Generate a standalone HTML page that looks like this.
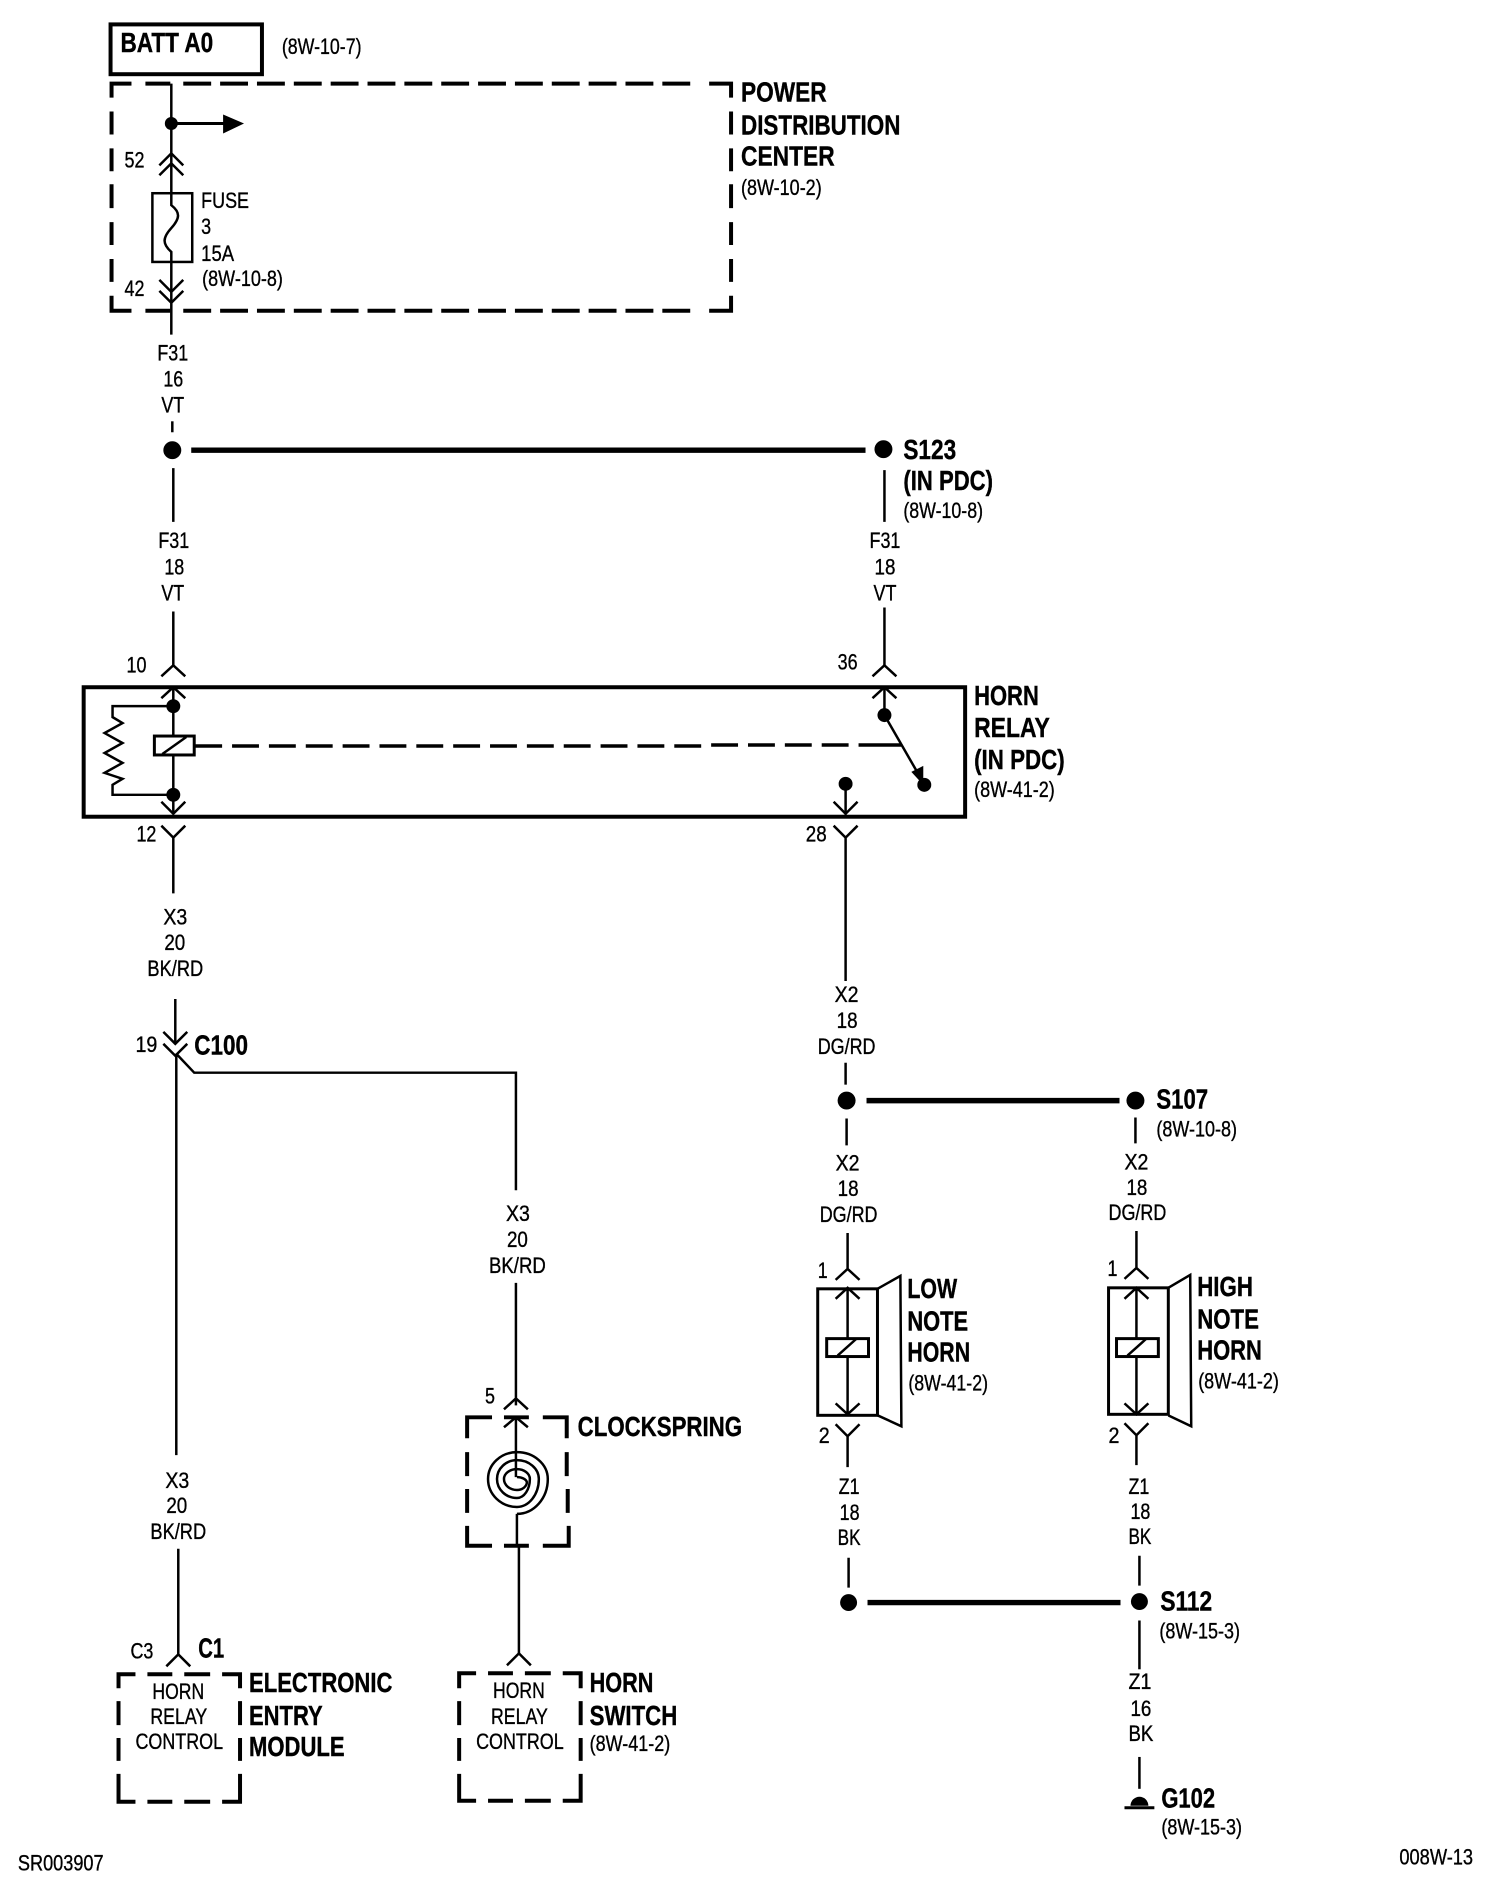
<!DOCTYPE html>
<html><head><meta charset="utf-8"><style>
html,body{margin:0;padding:0;background:#fff}
svg{display:block}
text{fill:#000;font-family:"Liberation Sans",sans-serif}
.b{font-weight:bold;font-size:28px;stroke:#000;stroke-width:.4}
.n{font-size:22px;stroke:#000;stroke-width:.35}
.w{fill:none;stroke:#000;stroke-width:2.5}
.t{fill:none;stroke:#000;stroke-width:4}
.h{fill:none;stroke:#000;stroke-width:5.5}
</style></head><body>
<svg width="1504" height="1894" viewBox="0 0 1504 1894" xmlns="http://www.w3.org/2000/svg">
<rect width="1504" height="1894" fill="#fff"/>
<g transform="scale(.996)">

<!-- BATT -->
<rect class="t" x="111" y="24.5" width="152" height="50"/>
<text class="b" x="121" y="52" textLength="93" lengthAdjust="spacingAndGlyphs">BATT A0</text>
<text class="n" x="283" y="54" textLength="80" lengthAdjust="spacingAndGlyphs">(8W-10-7)</text>

<!-- PDC dashed -->
<path class="t" d="M112 98V84H132M146 84H171M184 84H212M221 84H249M258 84H286M295 84H323M332 84H360M369 84H397M406 84H434M443 84H471M480 84H508M517 84H545M554 84H582M591 84H619M628 84H656M665 84H693M712 84H734V98
M112 112V135M112 149V172M112 185V209M112 223V246M112 260V283M112 297V312H132M146 312H171M184 312H212M221 312H249M258 312H286M295 312H323M332 312H360M369 312H397M406 312H434M443 312H471M480 312H508M517 312H545M554 312H582M591 312H619M628 312H656M665 312H693M712 312H734V297
M734 112V135M734 149V172M734 185V209M734 223V246M734 260V283"/>
<text class="b" x="744" y="102" textLength="86" lengthAdjust="spacingAndGlyphs">POWER</text>
<text class="b" x="744" y="135" textLength="160" lengthAdjust="spacingAndGlyphs">DISTRIBUTION</text>
<text class="b" x="744" y="166" textLength="94" lengthAdjust="spacingAndGlyphs">CENTER</text>
<text class="n" x="744" y="196" textLength="81" lengthAdjust="spacingAndGlyphs">(8W-10-2)</text>

<!-- PDC internals -->
<g transform="translate(1,1)">
<path class="w" d="M171 83V192M171 261V335"/>
<circle cx="171" cy="123" r="6.5"/>
<path class="t" d="M171 123H224" style="stroke-width:3"/>
<path d="M223 114L244 123L223 133Z"/>
<path class="w" d="M159 165L171 153L183 165M159 175L171 163L183 175"/>
<rect class="w" x="152" y="193" width="40" height="69"/>
<path class="w" d="M171 193V205C180 212 180 218 171 228C162 238 162 244 171 252V262"/>
<path class="w" d="M159 280L171 292L183 280M159 291L171 303L183 291"/>
<text class="n" x="124" y="167" textLength="20" lengthAdjust="spacingAndGlyphs">52</text>
<text class="n" x="124" y="296" textLength="20" lengthAdjust="spacingAndGlyphs">42</text>
<text class="n" x="201" y="208" textLength="48" lengthAdjust="spacingAndGlyphs">FUSE</text>
<text class="n" x="201" y="234" textLength="10" lengthAdjust="spacingAndGlyphs">3</text>
<text class="n" x="201" y="261" textLength="33" lengthAdjust="spacingAndGlyphs">15A</text>
<text class="n" x="202" y="286" textLength="81" lengthAdjust="spacingAndGlyphs">(8W-10-8)</text>

<!-- F31 16 -->
<text class="n" x="157" y="361" textLength="31" lengthAdjust="spacingAndGlyphs">F31</text>
<text class="n" x="163" y="387" textLength="20" lengthAdjust="spacingAndGlyphs">16</text>
<text class="n" x="161" y="413" textLength="23" lengthAdjust="spacingAndGlyphs">VT</text>
<path class="w" d="M172 422V433"/>
<circle cx="172" cy="451" r="9"/>
<path class="h" d="M191 451H868"/>
<circle cx="886" cy="450" r="9"/>
</g>

<!-- S123 -->
<text class="b" x="907" y="461" textLength="53" lengthAdjust="spacingAndGlyphs">S123</text>
<text class="b" x="907" y="492" textLength="90" lengthAdjust="spacingAndGlyphs">(IN PDC)</text>
<text class="n" x="907" y="520" textLength="80" lengthAdjust="spacingAndGlyphs">(8W-10-8)</text>
<path class="w" d="M174 470V524M174 614V668M888 472V524M888 610V668"/>
<text class="n" x="159" y="550" textLength="31" lengthAdjust="spacingAndGlyphs">F31</text>
<text class="n" x="165" y="577" textLength="20" lengthAdjust="spacingAndGlyphs">18</text>
<text class="n" x="162" y="603" textLength="23" lengthAdjust="spacingAndGlyphs">VT</text>
<text class="n" x="873" y="550" textLength="31" lengthAdjust="spacingAndGlyphs">F31</text>
<text class="n" x="878" y="577" textLength="21" lengthAdjust="spacingAndGlyphs">18</text>
<text class="n" x="877" y="603" textLength="23" lengthAdjust="spacingAndGlyphs">VT</text>

<!-- Relay -->
<rect class="t" x="84" y="690" width="885" height="130"/>
<path class="w" d="M162 679L174 668L186 679M876 679L888 668L900 679"/>
<path class="w" d="M162 701L174 690L186 701M876 701L888 690L900 701"/>
<path class="w" d="M174 690V817M888 690V716"/>
<circle cx="174" cy="709" r="7"/>
<circle cx="174" cy="798" r="7"/>
<path class="w" d="M162 805L174 817L186 805"/>
<path class="w" d="M174 709H113V720L123 726L105 736L123 746L105 756L123 766L105 776L123 782L113 788V798H174"/>
<rect x="155" y="739" width="40" height="19" fill="#fff" stroke="#000" stroke-width="3"/>
<path class="w" d="M163 757L187 740"/>
<path class="t" d="M195 749H223M233 749H260M270 749H297M307 749H334M344 749H371M381 749H408M418 749H445M455 749H482M492 749H519M529 749H556M566 749H593M603 749H630M640 749H667M677 749H704M714 748H741M751 748H778M788 748H815M825 748H852M862 748H905" style="stroke-width:3.5"/>
<circle cx="888" cy="718" r="7"/>
<path class="w" d="M888 718L926 784"/>
<path d="M915 775L927 769L927 788Z"/>
<circle cx="928" cy="788" r="7"/>
<circle cx="849" cy="787" r="7"/>
<path class="w" d="M849 787V818M837 805L849 817L861 805"/>
<path class="w" d="M162 829L174 841L186 829M174 841V897M837 829L849 841L861 829M849 841V985"/>
<text class="n" x="127" y="675" textLength="20" lengthAdjust="spacingAndGlyphs">10</text>
<text class="n" x="841" y="672" textLength="20" lengthAdjust="spacingAndGlyphs">36</text>
<text class="n" x="137" y="845" textLength="20" lengthAdjust="spacingAndGlyphs">12</text>
<text class="n" x="809" y="845" textLength="21" lengthAdjust="spacingAndGlyphs">28</text>
<text class="b" x="978" y="708" textLength="65" lengthAdjust="spacingAndGlyphs">HORN</text>
<text class="b" x="978" y="740" textLength="76" lengthAdjust="spacingAndGlyphs">RELAY</text>
<text class="b" x="978" y="772" textLength="91" lengthAdjust="spacingAndGlyphs">(IN PDC)</text>
<text class="n" x="978" y="800" textLength="81" lengthAdjust="spacingAndGlyphs">(8W-41-2)</text>

<!-- X3 left upper -->
<text class="n" x="164" y="928" textLength="24" lengthAdjust="spacingAndGlyphs">X3</text>
<text class="n" x="165" y="954" textLength="21" lengthAdjust="spacingAndGlyphs">20</text>
<text class="n" x="148" y="980" textLength="56" lengthAdjust="spacingAndGlyphs">BK/RD</text>

<!-- C100 -->
<path class="w" d="M176 1003V1046M164 1036L176 1048L188 1036M164 1048L176 1060L188 1048"/>
<path class="w" d="M177 1058V1461M177 1058L195 1077H518V1195"/>
<text class="n" x="136" y="1056" textLength="22" lengthAdjust="spacingAndGlyphs">19</text>
<text class="b" x="195" y="1059" textLength="54" lengthAdjust="spacingAndGlyphs">C100</text>

<!-- Clockspring branch -->
<text class="n" x="508" y="1226" textLength="24" lengthAdjust="spacingAndGlyphs">X3</text>
<text class="n" x="509" y="1252" textLength="21" lengthAdjust="spacingAndGlyphs">20</text>
<text class="n" x="491" y="1278" textLength="57" lengthAdjust="spacingAndGlyphs">BK/RD</text>
<path class="w" d="M518 1288V1411M506 1415L518 1404L530 1415"/>
<text class="n" x="487" y="1409" textLength="10" lengthAdjust="spacingAndGlyphs">5</text>
<path class="t" d="M469 1444V1423H494M506 1423H531M545 1423H569V1444M469 1458V1482M469 1495V1519M469 1532V1552H494M506 1552H531M545 1552H571V1532M569 1458V1482M570 1495V1519"/>
<path class="w" d="M506 1433L518 1423L530 1433M518 1423V1483"/>
<g transform="translate(2,5)">
<path class="w" d="M517 1478A10 6 0 0 1 527 1483A10 8 0 0 1 517 1491A13 11 0 0 1 504 1480A13 10 0 0 1 517 1470A13 10 0 0 1 530 1480A13 19 0 0 1 517 1499A20 19 0 0 1 497 1480A20 19 0 0 1 517 1461A22 19 0 0 1 539 1480A22 28 0 0 1 517 1508A29 28 0 0 1 488 1480A29 27 0 0 1 517 1453A31 27 0 0 1 548 1480A31 35 0 0 1 517 1515"/>
</g>
<path class="w" d="M519 1520V1552M521 1552V1660"/>
<text class="b" x="580" y="1442" textLength="165" lengthAdjust="spacingAndGlyphs">CLOCKSPRING</text>

<!-- X3 lower left -->
<text class="n" x="166" y="1494" textLength="24" lengthAdjust="spacingAndGlyphs">X3</text>
<text class="n" x="167" y="1519" textLength="21" lengthAdjust="spacingAndGlyphs">20</text>
<text class="n" x="151" y="1545" textLength="56" lengthAdjust="spacingAndGlyphs">BK/RD</text>
<path class="w" d="M179 1555V1661M167 1673L179 1661L191 1673"/>
<text class="n" x="131" y="1665" textLength="23" lengthAdjust="spacingAndGlyphs">C3</text>
<text class="b" x="199" y="1664" textLength="26" lengthAdjust="spacingAndGlyphs">C1</text>

<!-- EEM box -->
<path class="t" d="M119 1695V1681H136M148 1681H173M185 1681H211M223 1681H241V1695M119 1708V1732M119 1745V1768M119 1781V1809H136M148 1809H173M185 1809H211M223 1809H241V1781M241 1708V1732M241 1745V1768"/>
<text class="n" x="153" y="1706" textLength="52" lengthAdjust="spacingAndGlyphs">HORN</text>
<text class="n" x="151" y="1731" textLength="57" lengthAdjust="spacingAndGlyphs">RELAY</text>
<text class="n" x="136" y="1756" textLength="88" lengthAdjust="spacingAndGlyphs">CONTROL</text>
<text class="b" x="250" y="1699" textLength="144" lengthAdjust="spacingAndGlyphs">ELECTRONIC</text>
<text class="b" x="250" y="1732" textLength="74" lengthAdjust="spacingAndGlyphs">ENTRY</text>
<text class="b" x="250" y="1763" textLength="96" lengthAdjust="spacingAndGlyphs">MODULE</text>

<!-- Horn switch box -->
<path class="w" d="M509 1672L521 1660L533 1672"/>
<path class="t" d="M461 1695V1680H478M490 1680H515M527 1680H553M565 1680H583V1695M461 1708V1732M461 1745V1768M461 1781V1808H478M490 1808H515M527 1808H553M565 1808H583V1781M583 1708V1732M583 1745V1768"/>
<text class="n" x="495" y="1705" textLength="52" lengthAdjust="spacingAndGlyphs">HORN</text>
<text class="n" x="493" y="1731" textLength="57" lengthAdjust="spacingAndGlyphs">RELAY</text>
<text class="n" x="478" y="1756" textLength="88" lengthAdjust="spacingAndGlyphs">CONTROL</text>
<text class="b" x="592" y="1699" textLength="64" lengthAdjust="spacingAndGlyphs">HORN</text>
<text class="b" x="592" y="1732" textLength="88" lengthAdjust="spacingAndGlyphs">SWITCH</text>
<text class="n" x="592" y="1758" textLength="81" lengthAdjust="spacingAndGlyphs">(8W-41-2)</text>

<!-- X2 upper -->
<text class="n" x="838" y="1006" textLength="24" lengthAdjust="spacingAndGlyphs">X2</text>
<text class="n" x="840" y="1032" textLength="21" lengthAdjust="spacingAndGlyphs">18</text>
<text class="n" x="821" y="1058" textLength="58" lengthAdjust="spacingAndGlyphs">DG/RD</text>
<path class="w" d="M849 1067V1089"/>
<circle cx="850" cy="1105" r="9"/>
<path class="h" d="M870 1105H1124"/>
<circle cx="1140" cy="1105" r="9"/>
<text class="b" x="1161" y="1113" textLength="52" lengthAdjust="spacingAndGlyphs">S107</text>
<text class="n" x="1161" y="1141" textLength="81" lengthAdjust="spacingAndGlyphs">(8W-10-8)</text>
<path class="w" d="M850 1123V1150M1140 1122V1148"/>
<text class="n" x="839" y="1175" textLength="24" lengthAdjust="spacingAndGlyphs">X2</text>
<text class="n" x="841" y="1201" textLength="21" lengthAdjust="spacingAndGlyphs">18</text>
<text class="n" x="823" y="1227" textLength="58" lengthAdjust="spacingAndGlyphs">DG/RD</text>
<text class="n" x="1129" y="1174" textLength="24" lengthAdjust="spacingAndGlyphs">X2</text>
<text class="n" x="1131" y="1200" textLength="21" lengthAdjust="spacingAndGlyphs">18</text>
<text class="n" x="1113" y="1225" textLength="58" lengthAdjust="spacingAndGlyphs">DG/RD</text>

<!-- Low horn -->
<path class="w" d="M851 1238V1274M839 1285L851 1274L863 1285"/>
<rect class="w" x="821" y="1294" width="60" height="127" style="stroke-width:3"/>
<path class="w" d="M839 1304L851 1293L863 1304M851 1293V1420M839 1409L851 1420L863 1409"/>
<rect x="830" y="1344" width="42" height="18" fill="#fff" stroke="#000" stroke-width="3"/>
<path class="w" d="M841 1361L860 1344"/>
<path class="w" d="M881 1294L904 1281L905 1432L881 1421"/>
<path class="w" d="M839 1430L851 1442L863 1430M851 1442V1473"/>
<text class="n" x="821" y="1283" textLength="10" lengthAdjust="spacingAndGlyphs">1</text>
<text class="n" x="822" y="1449" textLength="11" lengthAdjust="spacingAndGlyphs">2</text>
<text class="b" x="911" y="1303" textLength="50" lengthAdjust="spacingAndGlyphs">LOW</text>
<text class="b" x="911" y="1336" textLength="61" lengthAdjust="spacingAndGlyphs">NOTE</text>
<text class="b" x="911" y="1367" textLength="63" lengthAdjust="spacingAndGlyphs">HORN</text>
<text class="n" x="912" y="1396" textLength="80" lengthAdjust="spacingAndGlyphs">(8W-41-2)</text>
<text class="n" x="842" y="1500" textLength="21" lengthAdjust="spacingAndGlyphs">Z1</text>
<text class="n" x="843" y="1526" textLength="20" lengthAdjust="spacingAndGlyphs">18</text>
<text class="n" x="841" y="1551" textLength="23" lengthAdjust="spacingAndGlyphs">BK</text>
<path class="w" d="M852 1564V1594M1144 1562V1592"/>

<!-- High horn -->
<path class="w" d="M1141 1236V1273M1129 1284L1141 1273L1153 1284"/>
<rect class="w" x="1113" y="1293" width="60" height="127" style="stroke-width:3"/>
<path class="w" d="M1129 1304L1141 1293L1153 1304M1141 1293V1420M1129 1409L1141 1420L1153 1409"/>
<rect x="1121" y="1344" width="42" height="18" fill="#fff" stroke="#000" stroke-width="3"/>
<path class="w" d="M1132 1361L1151 1344"/>
<path class="w" d="M1173 1293L1195 1280L1196 1432L1173 1421"/>
<path class="w" d="M1129 1429L1141 1441L1153 1429M1141 1441V1471"/>
<text class="n" x="1112" y="1281" textLength="10" lengthAdjust="spacingAndGlyphs">1</text>
<text class="n" x="1113" y="1449" textLength="11" lengthAdjust="spacingAndGlyphs">2</text>
<text class="b" x="1202" y="1301" textLength="56" lengthAdjust="spacingAndGlyphs">HIGH</text>
<text class="b" x="1202" y="1334" textLength="62" lengthAdjust="spacingAndGlyphs">NOTE</text>
<text class="b" x="1202" y="1365" textLength="65" lengthAdjust="spacingAndGlyphs">HORN</text>
<text class="n" x="1203" y="1394" textLength="81" lengthAdjust="spacingAndGlyphs">(8W-41-2)</text>
<text class="n" x="1133" y="1500" textLength="21" lengthAdjust="spacingAndGlyphs">Z1</text>
<text class="n" x="1135" y="1525" textLength="20" lengthAdjust="spacingAndGlyphs">18</text>
<text class="n" x="1133" y="1550" textLength="23" lengthAdjust="spacingAndGlyphs">BK</text>

<!-- S112 -->
<circle cx="852" cy="1609" r="8.5"/>
<path class="h" d="M871 1609H1125"/>
<circle cx="1144" cy="1608" r="8.5"/>
<text class="b" x="1165" y="1617" textLength="52" lengthAdjust="spacingAndGlyphs">S112</text>
<text class="n" x="1164" y="1645" textLength="81" lengthAdjust="spacingAndGlyphs">(8W-15-3)</text>
<path class="w" d="M1144 1627V1676"/>
<text class="n" x="1133" y="1696" textLength="23" lengthAdjust="spacingAndGlyphs">Z1</text>
<text class="n" x="1135" y="1723" textLength="21" lengthAdjust="spacingAndGlyphs">16</text>
<text class="n" x="1133" y="1748" textLength="25" lengthAdjust="spacingAndGlyphs">BK</text>
<path class="w" d="M1144 1764V1796"/>
<path d="M1135 1813A9 9 0 0 1 1153 1813Z"/>
<path class="w" d="M1129 1815H1159" style="stroke-width:3"/>
<text class="b" x="1166" y="1815" textLength="54" lengthAdjust="spacingAndGlyphs">G102</text>
<text class="n" x="1166" y="1842" textLength="81" lengthAdjust="spacingAndGlyphs">(8W-15-3)</text>

<!-- Footer -->
<text class="n" x="18" y="1878" textLength="86" lengthAdjust="spacingAndGlyphs">SR003907</text>
<text class="n" x="1405" y="1872" textLength="74" lengthAdjust="spacingAndGlyphs">008W-13</text>
</g>
</svg>
</body></html>
